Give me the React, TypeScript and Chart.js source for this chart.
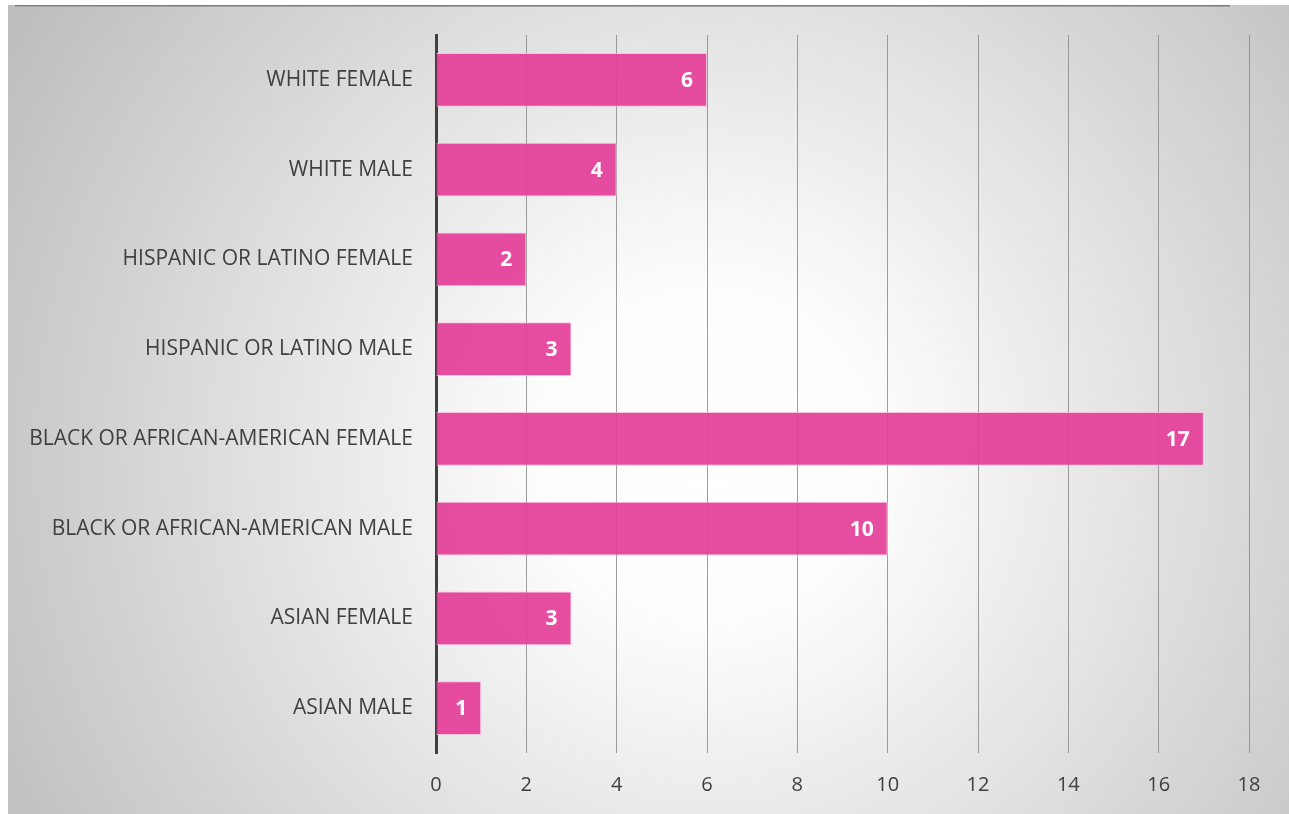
import React, { useEffect, useRef } from "react";
import { Chart, registerables } from "chart.js";

Chart.register(...registerables);

const categories: string[] = [
  "WHITE FEMALE",
  "WHITE MALE",
  "HISPANIC OR LATINO FEMALE",
  "HISPANIC OR LATINO MALE",
  "BLACK OR AFRICAN-AMERICAN FEMALE",
  "BLACK OR AFRICAN-AMERICAN MALE",
  "ASIAN FEMALE",
  "ASIAN MALE",
];
const counts: number[] = [6, 4, 2, 3, 17, 10, 3, 1];
const xMin = 0;
const xMax = 18;
const xStep = 2;

const W = 1281;
const H = 809;
const FONT = "'Open Sans', sans-serif";

const bgPlugin = {
  id: "bgPlugin",
  beforeDraw(chart: any) {
    const ctx = chart.ctx;
    ctx.save();
    const g = ctx.createRadialGradient(700, 450, 0, 700, 450, 830);
    g.addColorStop(0, "#ffffff");
    g.addColorStop(0.2, "#fdfdfd");
    g.addColorStop(1, "#bcbcbc");
    ctx.fillStyle = g;
    ctx.fillRect(0, 0, chart.width, chart.height);
    ctx.fillStyle = "#7c7c7c";
    ctx.fillRect(7, 0, 1215, 1);
    ctx.fillStyle = "#a4a4a4";
    ctx.fillRect(7, 1, 1215, 1);
    ctx.restore();
  },
};

const labelPlugin = {
  id: "labelPlugin",
  afterDatasetsDraw(chart: any) {
    const ctx = chart.ctx;
    const meta = chart.getDatasetMeta(0);
    ctx.save();
    ctx.font = `bold 21px ${FONT}`;
    ctx.fillStyle = "#ffffff";
    ctx.textAlign = "right";
    ctx.textBaseline = "middle";
    meta.data.forEach((bar: any, i: number) => {
      const p = bar.getProps(["x", "y"], true);
      ctx.fillText(String(chart.data.datasets[0].data[i]), p.x - 14, p.y + 1);
    });
    ctx.restore();
  },
};

export default function App() {
  const ref = useRef<HTMLCanvasElement | null>(null);
  useEffect(() => {
    if (!ref.current) return;
    const chart = new Chart(ref.current, {
      type: "bar",
      data: {
        labels: categories,
        datasets: [
          {
            data: counts,
            backgroundColor: "rgba(228, 62, 152, 0.92)",
            borderColor: "rgba(250, 190, 220, 0.9)",
            borderWidth: 1,
            categoryPercentage: 0.6,
            barPercentage: 1,
          },
        ],
      },
      options: {
        indexAxis: "y",
        responsive: false,
        animation: false,
        layout: { padding: { top: 30, right: 40, left: 0, bottom: 0 } },
        plugins: { legend: { display: false }, tooltip: { enabled: false } },
        scales: {
          x: {
            min: xMin,
            max: xMax,
            ticks: {
              stepSize: xStep,
              padding: 20,
              color: "#404040",
              font: { family: FONT, size: 20 },
            },
            grid: {
              color: "rgba(140,140,140,0.85)",
              lineWidth: 1,
              drawTicks: false,
            },
            border: { display: false },
            afterFit(scale: any) {
              scale.height = 61;
              scale.paddingLeft = 0;
              scale.paddingRight = 0;
            },
          },
          y: {
            ticks: {
              padding: 23,
              color: "#404040",
              font: { family: FONT, size: 21 },
            },
            grid: { display: false, drawTicks: false },
            border: { display: true, color: "#404040", width: 3 },
            afterFit(scale: any) {
              scale.width = 428;
              scale.paddingTop = 0;
              scale.paddingBottom = 0;
            },
          },
        },
      },
      plugins: [bgPlugin, labelPlugin],
    });
    return () => chart.destroy();
  }, []);
  return (
    <canvas
      ref={ref}
      width={W}
      height={H}
      style={{ position: "absolute", left: 8, top: 5, width: W, height: H, display: "block" }}
    />
  );
}
